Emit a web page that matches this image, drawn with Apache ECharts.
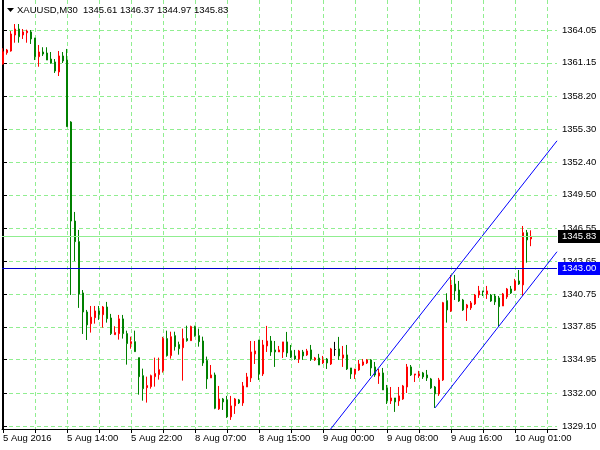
<!DOCTYPE html>
<html>
<head>
<meta charset="utf-8">
<script src="https://cdn.jsdelivr.net/npm/echarts@6/dist/echarts.min.js"></script>
<style>
  html, body { margin: 0; padding: 0; background: #fff; }
  #chart { width: 600px; height: 450px; }
</style>
</head>
<body>
<div id="chart"></div>
<script>
var symbol = 'XAUUSD,M30';

// M30 bars, oldest first (5 Aug 2016 06:00 ... 10 Aug 03:00)
var opens = [
  1361.05, 1362.05, 1362.20, 1363.61, 1364.14, 1363.61, 1363.81, 1363.88, 1363.35, 1361.70,
  1362.11, 1362.02, 1361.49, 1361.23, 1360.35, 1361.76, 1361.40, 1355.93, 1347.19, 1345.37,
  1340.84, 1339.16, 1338.13, 1338.66, 1339.25, 1338.92, 1339.60, 1338.63, 1337.16, 1337.25,
  1338.55, 1337.25, 1336.37, 1336.54, 1335.13, 1333.54, 1332.48, 1332.57, 1333.45, 1333.63,
  1333.98, 1336.81, 1335.31, 1337.07, 1336.28, 1336.01, 1336.81, 1336.63, 1337.87, 1337.07,
  1336.60, 1334.87, 1333.34, 1333.60, 1330.60, 1331.48, 1331.40, 1329.90, 1330.87, 1331.40,
  1331.13, 1332.54, 1333.34, 1335.46, 1336.69, 1333.69, 1336.16, 1336.60, 1335.81, 1335.63,
  1335.63, 1336.52, 1335.72, 1335.28, 1335.01, 1335.63, 1335.37, 1335.81, 1334.93, 1335.10,
  1334.66, 1335.01, 1334.57, 1335.85, 1335.90, 1335.10, 1335.37, 1334.22, 1333.69, 1334.04,
  1334.48, 1334.66, 1334.93, 1334.31, 1333.51, 1333.78, 1332.46, 1331.31, 1331.57, 1331.31,
  1331.48, 1332.54, 1334.31, 1333.60, 1333.51, 1333.78, 1333.60, 1333.25, 1332.54, 1331.93,
  1333.16, 1340.16, 1339.25, 1341.63, 1341.10, 1340.22, 1339.52, 1339.52, 1339.87, 1340.66,
  1341.02, 1340.75, 1340.66, 1340.57, 1340.40, 1339.69, 1340.49, 1341.19, 1341.10, 1341.90,
  1341.55, 1346.16, 1345.61
];
var highs = [
  1362.44, 1362.38, 1363.96, 1364.58, 1364.58, 1364.14, 1364.08, 1364.05, 1363.35, 1362.73,
  1362.53, 1362.53, 1362.11, 1361.49, 1362.20, 1362.11, 1362.38, 1356.00, 1347.99, 1346.40,
  1341.10, 1339.34, 1339.69, 1339.69, 1339.69, 1339.69, 1340.05, 1338.99, 1337.90, 1338.90,
  1338.90, 1337.51, 1336.98, 1337.51, 1335.13, 1334.16, 1333.45, 1333.63, 1335.13, 1335.13,
  1336.96, 1337.51, 1337.42, 1337.42, 1336.54, 1337.69, 1337.95, 1337.95, 1337.95, 1337.69,
  1336.98, 1335.22, 1334.48, 1333.81, 1332.63, 1331.57, 1331.75, 1331.75, 1331.57, 1331.48,
  1332.98, 1333.78, 1336.60, 1336.60, 1336.69, 1336.69, 1337.93, 1337.04, 1336.60, 1336.16,
  1336.52, 1337.40, 1336.25, 1335.81, 1335.81, 1335.81, 1335.90, 1336.25, 1335.19, 1335.46,
  1335.28, 1335.10, 1335.99, 1336.52, 1336.96, 1336.16, 1336.25, 1334.22, 1334.13, 1334.93,
  1335.01, 1335.01, 1335.01, 1334.75, 1334.13, 1334.22, 1332.72, 1332.54, 1331.57, 1332.54,
  1332.72, 1334.57, 1334.48, 1333.69, 1333.96, 1333.87, 1334.04, 1333.34, 1332.63, 1333.34,
  1340.05, 1340.81, 1342.43, 1342.43, 1341.90, 1340.31, 1339.87, 1340.13, 1340.75, 1341.46,
  1341.02, 1341.46, 1340.75, 1340.75, 1340.57, 1340.84, 1341.28, 1341.46, 1342.08, 1342.87,
  1346.75, 1346.40, 1346.37
];
var lows = [
  1361.00, 1361.87, 1362.14, 1362.93, 1362.93, 1363.26, 1362.93, 1362.82, 1361.40, 1360.81,
  1361.76, 1361.40, 1361.08, 1360.26, 1359.99, 1361.14, 1355.52, 1340.66, 1343.66, 1339.52,
  1337.22, 1336.69, 1337.34, 1338.13, 1338.46, 1337.78, 1338.22, 1337.13, 1337.16, 1336.72,
  1336.81, 1334.51, 1335.92, 1335.66, 1331.86, 1331.33, 1331.16, 1332.39, 1332.57, 1333.19,
  1333.81, 1335.22, 1335.04, 1335.75, 1335.39, 1333.10, 1336.54, 1336.63, 1336.98, 1336.10,
  1334.40, 1332.37, 1333.34, 1330.58, 1330.51, 1330.51, 1329.81, 1329.63, 1330.16, 1331.04,
  1330.87, 1332.54, 1332.98, 1334.57, 1333.16, 1333.51, 1335.63, 1335.28, 1334.31, 1335.63,
  1335.10, 1335.19, 1335.10, 1334.93, 1334.66, 1334.93, 1335.28, 1334.84, 1334.84, 1334.48,
  1334.57, 1334.13, 1334.48, 1335.28, 1334.93, 1334.31, 1334.04, 1333.25, 1333.25, 1333.96,
  1334.40, 1334.57, 1333.51, 1333.43, 1332.81, 1332.28, 1331.04, 1331.04, 1330.34, 1330.87,
  1331.40, 1332.01, 1333.51, 1332.98, 1333.34, 1333.25, 1333.07, 1332.37, 1330.69, 1331.75,
  1333.07, 1338.22, 1339.16, 1340.22, 1340.05, 1339.25, 1338.37, 1339.34, 1339.78, 1340.40,
  1340.57, 1340.31, 1340.05, 1339.78, 1337.87, 1339.69, 1340.31, 1340.75, 1341.02, 1341.55,
  1340.57, 1343.51, 1344.97
];
var closes = [
  1362.14, 1362.29, 1363.70, 1364.14, 1363.46, 1363.88, 1363.96, 1363.26, 1361.70, 1362.11,
  1361.93, 1361.40, 1361.14, 1360.43, 1361.76, 1361.32, 1355.52, 1347.19, 1345.37, 1340.75,
  1339.16, 1338.02, 1338.70, 1339.25, 1338.92, 1339.60, 1338.57, 1337.25, 1337.34, 1338.55,
  1337.25, 1336.37, 1336.54, 1335.66, 1333.45, 1332.39, 1332.66, 1333.54, 1333.72, 1334.07,
  1336.81, 1335.31, 1336.98, 1336.10, 1335.92, 1336.81, 1336.63, 1337.87, 1337.07, 1336.54,
  1334.66, 1333.25, 1333.60, 1330.66, 1331.48, 1331.22, 1329.90, 1330.87, 1331.48, 1331.13,
  1332.63, 1333.43, 1335.63, 1335.72, 1333.69, 1336.25, 1336.60, 1335.63, 1335.63, 1335.81,
  1336.52, 1335.54, 1335.19, 1335.01, 1335.72, 1335.28, 1335.72, 1335.01, 1335.10, 1334.48,
  1334.93, 1334.66, 1335.90, 1335.85, 1335.28, 1335.37, 1334.13, 1333.69, 1334.13, 1334.57,
  1334.75, 1334.93, 1334.22, 1333.60, 1333.78, 1332.28, 1331.31, 1331.57, 1331.22, 1331.75,
  1332.63, 1334.31, 1333.60, 1333.69, 1333.69, 1333.43, 1333.34, 1332.46, 1331.93, 1333.16,
  1339.98, 1339.34, 1341.55, 1341.02, 1340.13, 1339.34, 1339.78, 1339.96, 1340.66, 1341.02,
  1340.93, 1341.02, 1340.13, 1340.05, 1339.63, 1340.75, 1341.19, 1340.84, 1341.90, 1341.63,
  1346.16, 1345.52, 1345.83
];

var timeTickBars = [0, 16, 32, 48, 64, 80, 96, 112, 128];
var timeTickLabels = ['5 Aug 2016', '5 Aug 14:00', '5 Aug 22:00', '8 Aug 07:00', '8 Aug 15:00',
  '9 Aug 00:00', '9 Aug 08:00', '9 Aug 16:00', '10 Aug 01:00'];
var gridBars = [0, 8, 16, 24, 32, 40, 48, 56, 64, 72, 80, 88, 96, 104, 112, 120, 128, 136];
var priceTicks = [1329.10, 1332.00, 1334.95, 1337.85, 1340.75, 1343.65, 1346.55,
  1349.50, 1352.40, 1355.30, 1358.20, 1361.15, 1364.05];

var hLineLevel = 1343.00;
var upperChannel = [[80, 1327.97], [138.5, 1354.27]];
var lowerChannel = [[108, 1330.69], [138.5, 1344.48]];

var font = 'Liberation Sans';
var gridColor = '#90ee90';
var last = opens.length - 1;

var candles = opens.map(function (o, i) {
  return [i, o, closes[i], lows[i], highs[i]];
});

var chart = echarts.init(document.getElementById('chart'));
var option = {
  animation: false,
  title: {
    text: symbol + '  ' + [opens[last], highs[last], lows[last], closes[last]].map(function (v) {
      return v.toFixed(2);
    }).join(' '),
    left: 17,
    top: 5,
    padding: 0,
    textStyle: { fontFamily: font, fontSize: 9.5, fontWeight: 'normal', color: '#000' }
  },
  graphic: [{
    type: 'polygon',
    shape: { points: [[7, 8], [14, 8], [10.5, 12]] },
    style: { fill: '#000' }
  }],
  grid: { left: 2, right: 43, top: 0, bottom: 21 },
  xAxis: [{
    type: 'value',
    min: -0.25,
    max: 138.5,
    axisLine: { show: true, onZero: false, lineStyle: { color: '#000' } },
    axisTick: { show: true, customValues: gridBars, length: 4, lineStyle: { color: '#000' } },
    axisLabel: {
      customValues: timeTickBars,
      formatter: function (v) { return timeTickLabels[timeTickBars.indexOf(v)]; },
      align: 'left',
      margin: 4,
      fontFamily: font,
      fontSize: 9.5,
      color: '#000'
    },
    splitLine: { show: true, lineStyle: { color: gridColor, type: [4, 3], width: 1 } }
  }],
  yAxis: [{
    type: 'value',
    position: 'right',
    min: 1328.83,
    max: 1366.70,
    axisLine: { show: true, lineStyle: { color: '#000' } },
    axisTick: { show: true, customValues: priceTicks, length: 4, lineStyle: { color: '#000' } },
    axisLabel: {
      customValues: priceTicks,
      formatter: function (v) { return v.toFixed(2); },
      margin: 5,
      fontFamily: font,
      fontSize: 9.5,
      color: '#000'
    },
    splitLine: { show: true, lineStyle: { color: gridColor, type: [4, 3], width: 1 } }
  }, {
    type: 'value',
    position: 'left',
    min: 1328.83,
    max: 1366.70,
    axisLine: { show: true, lineStyle: { color: '#000' } },
    axisTick: { show: false },
    axisLabel: { show: false },
    splitLine: { show: false }
  }],
  series: [{
    type: 'candlestick',
    data: candles,
    barWidth: 2,
    itemStyle: {
      color: '#ff0000',
      color0: '#008000',
      borderColor: '#ff0000',
      borderColor0: '#008000',
      borderColorDoji: '#000000',
      borderWidth: 1
    },
    markLine: {
      symbol: 'none',
      silent: true,
      animation: false,
      data: [{
        yAxis: closes[last],
        lineStyle: { color: gridColor, type: 'solid', width: 1 },
        label: {
          show: true, position: 'end', distance: 1,
          formatter: closes[last].toFixed(2),
          backgroundColor: '#000', color: '#fff',
          padding: [2, 4, 1, 4], fontFamily: font, fontSize: 9.5
        }
      }, {
        yAxis: hLineLevel,
        lineStyle: { color: '#0000cd', type: 'solid', width: 1 },
        label: {
          show: true, position: 'end', distance: 1,
          formatter: hLineLevel.toFixed(2),
          backgroundColor: '#0000ff', color: '#fff',
          padding: [2, 4, 1, 4], fontFamily: font, fontSize: 9.5
        }
      }]
    }
  }, {
    type: 'line',
    data: upperChannel,
    showSymbol: false,
    silent: true,
    lineStyle: { color: '#0000ff', width: 1 }
  }, {
    type: 'line',
    data: lowerChannel,
    showSymbol: false,
    silent: true,
    lineStyle: { color: '#0000ff', width: 1 }
  }]
};
chart.setOption(option);
</script>
</body>
</html>
